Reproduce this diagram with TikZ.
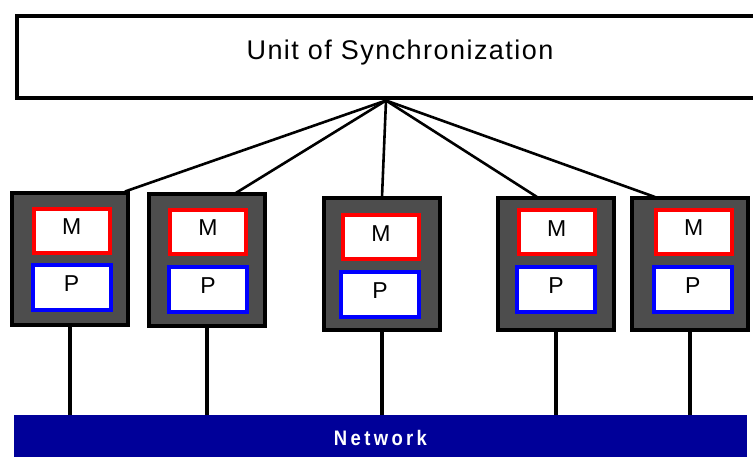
\documentclass[tikz,border=0pt]{standalone}
\usepackage{fontspec}
\setmainfont{Liberation Sans}
\newfontfamily\syncfont[LetterSpace=5.4]{Liberation Sans}
\newfontfamily\netfont[LetterSpace=16,FakeStretch=0.88]{Liberation Sans Bold}
\usetikzlibrary{positioning}

\definecolor{peGrey}{HTML}{4D4D4D}
\definecolor{netBlue}{HTML}{000099}

\tikzset{
  syncbox/.style={draw=black, line width=4pt, fill=white, inner sep=0pt,
    minimum width=767pt, minimum height=82pt, text depth=16pt,
    font=\syncfont\fontsize{27}{27}\selectfont},
  pe/.style={draw=black, fill=peGrey, line width=4pt, inner sep=0pt,
    minimum width=116pt, minimum height=132pt},
  membox/.style={draw=red, fill=white, line width=4pt, inner sep=0pt,
    minimum width=76pt, minimum height=44pt, text depth=8pt,
    font=\fontsize{23}{23}\selectfont},
  procbox/.style={membox, draw=blue, minimum width=78pt, minimum height=45pt},
  netbar/.style={fill=netBlue, text=white, inner sep=0pt,
    minimum width=733pt, minimum height=45pt,
    font=\netfont\fontsize{21}{21}\selectfont},
  hubline/.style={black, line width=2.6pt},
  netline/.style={black, line width=3.5pt}
}

\begin{document}
\begin{tikzpicture}[x=1pt, y=-1pt]

    \clip (0,0) rectangle (753,457);

    % unit of synchronization
    \node [syncbox] (sync) at (400,57.5) {Unit of Synchronization};
    \coordinate (hub) at ([xshift=-14pt]sync.south);

    % lines to the processing elements
    \draw [hubline] (hub) -- (125,191.5) coordinate (t1);
    \draw [hubline] (hub) -- (235,193.5) coordinate (t2);
    \draw [hubline] (hub) -- (382,197) coordinate (t3);
    \draw [hubline] (hub) -- (537,197) coordinate (t4);
    \draw [hubline] (hub) -- (655,197) coordinate (t5);

    % processing elements
    \node [pe] (pe1) at (70,259) {};
    \node [pe] (pe2) at (207,260.5) {};
    \node [pe] (pe3) at (382,264) {};
    \node [pe] (pe4) at (556,264) {};
    \node [pe] (pe5) at (690,264) {};

    % memory and processor
    \node [membox] (m1) at (71.7,231) {M};
    \node [procbox] (p1) at (71.5,287.5) {P};

    \node [membox] (m2) at (208,232) {M};
    \node [procbox] (p2) at (208,289.6) {P};

    \node [membox] (m3) at (381,237.5) {M};
    \node [procbox] (p3) at (380,294.5) {P};

    \node [membox] (m4) at (556.7,232.5) {M};
    \node [procbox] (p4) at (556,289.7) {P};

    \node [membox] (m5) at (693.7,231.7) {M};
    \node [procbox] (p5) at (692.8,289.7) {P};

    % network
    \node [netbar] (net) at (380.5,437.5) {Network};

    \draw [netline] (pe1.south) -- (pe1.south |- net.north);
    \draw [netline] (pe2.south) -- (pe2.south |- net.north);
    \draw [netline] (pe3.south) -- (pe3.south |- net.north);
    \draw [netline] (pe4.south) -- (pe4.south |- net.north);
    \draw [netline] (pe5.south) -- (pe5.south |- net.north);

\end{tikzpicture}
\end{document}
